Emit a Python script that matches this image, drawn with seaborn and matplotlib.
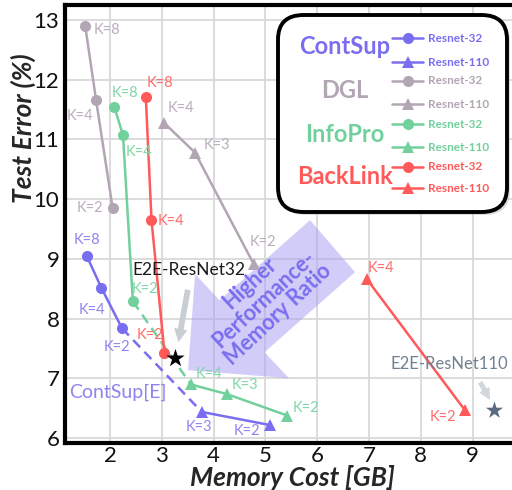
import numpy as np
import pandas as pd
import matplotlib
matplotlib.use("Agg")
import matplotlib.pyplot as plt
import seaborn as sns
from matplotlib.patches import Polygon, FancyBboxPatch
from matplotlib.lines import Line2D

# ---------------- data ----------------
contsup_r32_mem = [1.55, 1.83, 2.23]
contsup_r32_err = [9.05, 8.52, 7.84]
contsup_r32_k = [8, 4, 2]
contsup_r110_mem = [3.77, 5.09]
contsup_r110_err = [6.44, 6.22]
contsup_r110_k = [3, 2]

dgl_r32_mem = [1.52, 1.73, 2.05]
dgl_r32_err = [12.90, 11.66, 9.85]
dgl_r32_k = [8, 4, 2]
dgl_r110_mem = [3.04, 3.64, 4.77]
dgl_r110_err = [11.28, 10.78, 8.92]
dgl_r110_k = [4, 3, 2]

infopro_r32_mem = [2.08, 2.25, 2.44]
infopro_r32_err = [11.55, 11.07, 8.29]
infopro_r32_k = [8, 4, 2]
infopro_r110_mem = [3.56, 4.25, 5.42]
infopro_r110_err = [6.90, 6.74, 6.38]
infopro_r110_k = [4, 3, 2]

backlink_r32_mem = [2.69, 2.80, 3.05]
backlink_r32_err = [11.71, 9.65, 7.43]
backlink_r32_k = [8, 4, 2]
backlink_r110_mem = [6.96, 8.85]
backlink_r110_err = [8.66, 6.47]
backlink_r110_k = [4, 2]

e2e_labels = ["E2E-ResNet32", "E2E-ResNet110"]
e2e_mem = [3.25, 9.42]
e2e_err = [7.35, 6.48]

methods = ["ContSup", "DGL", "InfoPro", "BackLink"]
archs = ["Resnet-32", "Resnet-110"]
colors = {"ContSup": "#7a6ef0", "DGL": "#b2a5b4", "InfoPro": "#72d09c", "BackLink": "#ff5a5a"}
label_colors = {"ContSup": "#8d84f2", "DGL": "#b9adbb", "InfoPro": "#80d6a6", "BackLink": "#ff6b6b"}

series = {
    ("ContSup", "Resnet-32"): (contsup_r32_mem, contsup_r32_err, contsup_r32_k),
    ("ContSup", "Resnet-110"): (contsup_r110_mem, contsup_r110_err, contsup_r110_k),
    ("DGL", "Resnet-32"): (dgl_r32_mem, dgl_r32_err, dgl_r32_k),
    ("DGL", "Resnet-110"): (dgl_r110_mem, dgl_r110_err, dgl_r110_k),
    ("InfoPro", "Resnet-32"): (infopro_r32_mem, infopro_r32_err, infopro_r32_k),
    ("InfoPro", "Resnet-110"): (infopro_r110_mem, infopro_r110_err, infopro_r110_k),
    ("BackLink", "Resnet-32"): (backlink_r32_mem, backlink_r32_err, backlink_r32_k),
    ("BackLink", "Resnet-110"): (backlink_r110_mem, backlink_r110_err, backlink_r110_k),
}

rows = []
for (m, a), (xs, ys, ks) in series.items():
    for i, (x, y, k) in enumerate(zip(xs, ys, ks)):
        rows.append(dict(method=m, arch=a, mem=x, err=y, K=k, order=i))
df = pd.DataFrame(rows)

# label offsets in pixels (style only)
label_offsets = {
    ("ContSup", "Resnet-32"): [(0, 16), (-9, -22), (-5, -19)],
    ("ContSup", "Resnet-110"): [(-3, -15), (-23, -6)],
    ("DGL", "Resnet-32"): [(22, -4), (-16, -16), (-23, 0)],
    ("DGL", "Resnet-110"): [(17, 15), (22, 8), (9, 22)],
    ("InfoPro", "Resnet-32"): [(11, 14), (16, -17), (12, 12)],
    ("InfoPro", "Resnet-110"): [(18, 10), (18, 9), (19, 8)],
    ("BackLink", "Resnet-32"): [(14, 14), (19, -1), (-15, 18)],
    ("BackLink", "Resnet-110"): [(14, 11), (-22, -7)],
}

# ---------------- figure ----------------
sns.set_theme(style="whitegrid")
plt.rcParams["font.family"] = ["Lato", "DejaVu Sans"]

W, H = 512, 490
fig = plt.figure(figsize=(W / 100, H / 100), dpi=100)
ax = fig.add_axes([65 / W, 1 - 443 / H, (W - 65) / W, (443 - 5) / H])

ax.set_xlim(1.13, 9.76)
ax.set_ylim(5.92, 13.25)
ax.set_xticks(range(2, 10))
ax.set_yticks(range(6, 14))
ax.grid(True, color="#d9d9d9", linewidth=1.3)
ax.set_axisbelow(True)
ax.tick_params(axis="both", length=0, labelsize=16, colors="#111111")
ax.tick_params(axis="x", pad=2)
ax.tick_params(axis="y", pad=4)
for s in ["left", "bottom", "top"]:
    ax.spines[s].set_visible(True)
    ax.spines[s].set_color("black")
    ax.spines[s].set_linewidth(3)
ax.spines["right"].set_visible(False)

# Big translucent arrow (decoration)
arrow_px = [(188, 370), (289, 378), (264.5, 352), (355, 272), (310, 220), (219.5, 300), (195, 274)]
def px2data(p):
    return (2 + (p[0] - 110) / 51.8, 13 - (p[1] - 20) / 59.7)
ax.add_patch(Polygon([px2data(p) for p in arrow_px], closed=True,
                     facecolor="#a79df3", alpha=0.5, edgecolor="none", zorder=1))
ax.text(4.97, 8.33, "Higher\nPerformance-\nMemory Ratio", rotation=43,
        ha="center", va="center", ma="center", fontsize=15.5, fontweight="bold",
        color="#7a6ef0", linespacing=1.0, zorder=2, rotation_mode="anchor")

# main lines
sns.lineplot(data=df, x="mem", y="err", hue="method", style="arch",
             palette=colors, markers={"Resnet-32": "o", "Resnet-110": "^"},
             dashes=False, sort=False, estimator=None,
             legend=False, ax=ax, linewidth=1.8, markersize=8, markeredgewidth=0, zorder=4)

# dashed connectors (ContSup[E] and InfoPro)
for m in ["ContSup", "InfoPro"]:
    xs32, ys32, _ = series[(m, "Resnet-32")]
    xs110, ys110, _ = series[(m, "Resnet-110")]
    sns.lineplot(x=[xs32[-1], xs110[0]], y=[ys32[-1], ys110[0]], ax=ax, color=colors[m],
                 linestyle=(0, (4, 2.5)), linewidth=1.8, zorder=3, sort=False)

# K labels
for key, (xs, ys, ks) in series.items():
    for (x, y, k), off in zip(zip(xs, ys, ks), label_offsets[key]):
        ax.annotate(f"K={k}", (x, y), xytext=off, textcoords="offset pixels",
                    ha="center", va="center", fontsize=10.5, color=label_colors[key[0]], zorder=5)

# E2E stars
ax.scatter([e2e_mem[0]], [e2e_err[0]], marker="*", s=190, color="black", zorder=6, linewidths=0)
ax.scatter([e2e_mem[1]], [e2e_err[1]], marker="*", s=170, color="#5b6b80", zorder=6, linewidths=0)
ax.annotate(e2e_labels[0], (e2e_mem[0], e2e_err[0]), xytext=(-42, 88), textcoords="offset pixels",
            ha="left", va="center", fontsize=12.5, color="#1a1a1a", zorder=7)
ax.annotate(e2e_labels[1], (e2e_mem[1], e2e_err[1]), xytext=(-104, 46), textcoords="offset pixels",
            ha="left", va="center", fontsize=12, color="#708193", zorder=7)
# small gray arrows
ax.annotate("", xy=(e2e_mem[0] + 0.06, e2e_err[0] + 0.21), xytext=(e2e_mem[0] + 0.26, e2e_err[0] + 1.18),
            arrowprops=dict(arrowstyle="simple,head_width=0.8,head_length=0.8,tail_width=0.35",
                            color="#c9ced3", lw=0), zorder=6)
ax.annotate("", xy=(e2e_mem[1] - 0.06, e2e_err[1] + 0.12), xytext=(e2e_mem[1] - 0.3, e2e_err[1] + 0.5),
            arrowprops=dict(arrowstyle="simple,head_width=0.7,head_length=0.7,tail_width=0.3",
                            color="#d2d7db", lw=0), zorder=6)
ax.text(2.15, 6.77, "ContSup[E]", fontsize=14, color="#8d84f2", ha="center", va="center")

ax.set_xlabel("Memory Cost [GB]", fontsize=19, fontweight="bold", fontstyle="italic", va="center")
ax.xaxis.set_label_coords((292 - 65) / 447, (443 - 478) / 438)
ax.set_ylabel("Test Error (%)", fontsize=19, fontweight="bold", fontstyle="italic", va="center")
ax.yaxis.set_label_coords((23 - 65) / 447, (443 - 128) / 438)

# ---------------- custom legend box ----------------
def fx(x):
    return x / W
def fy(y):
    return 1 - y / H

shadow = FancyBboxPatch((fx(281), fy(215)), fx(507) - fx(278), fy(15) - fy(212),
                        boxstyle="round,pad=0,rounding_size=0.05", transform=fig.transFigure,
                        facecolor="#bbbbbb", edgecolor="none", alpha=0.5, zorder=9)
fig.add_artist(shadow)
box = FancyBboxPatch((fx(278), fy(212)), fx(507) - fx(278), fy(15) - fy(212),
                     boxstyle="round,pad=0,rounding_size=0.05", transform=fig.transFigure,
                     facecolor="white", edgecolor="black", linewidth=2.8, zorder=10)
fig.add_artist(box)

group_y = [47, 90, 135, 177]
row_y = [38, 62, 81, 104, 124, 147, 167, 188]
for gi, m in enumerate(methods):
    fig.text(fx(345), fy(group_y[gi]), m, ha="center", va="center", fontsize=17,
             fontweight="bold", color=colors[m], zorder=11)
    for ai, a in enumerate(archs):
        yy = row_y[gi * 2 + ai]
        mk = "o" if a == "Resnet-32" else "^"
        ln = Line2D([fx(392), fx(423)], [fy(yy), fy(yy)], transform=fig.transFigure,
                    color=colors[m], linewidth=1.8, zorder=11)
        fig.add_artist(ln)
        mkl = Line2D([fx(407.5)], [fy(yy)], transform=fig.transFigure, marker=mk,
                     markersize=9 if mk == "^" else 8, color=colors[m], markeredgewidth=0,
                     linestyle="none", zorder=12)
        fig.add_artist(mkl)
        fig.text(fx(428), fy(yy), a, ha="left", va="center", fontsize=8.5,
                 fontweight="bold", color=colors[m], zorder=11)

fig.savefig("out.png", dpi=100)
